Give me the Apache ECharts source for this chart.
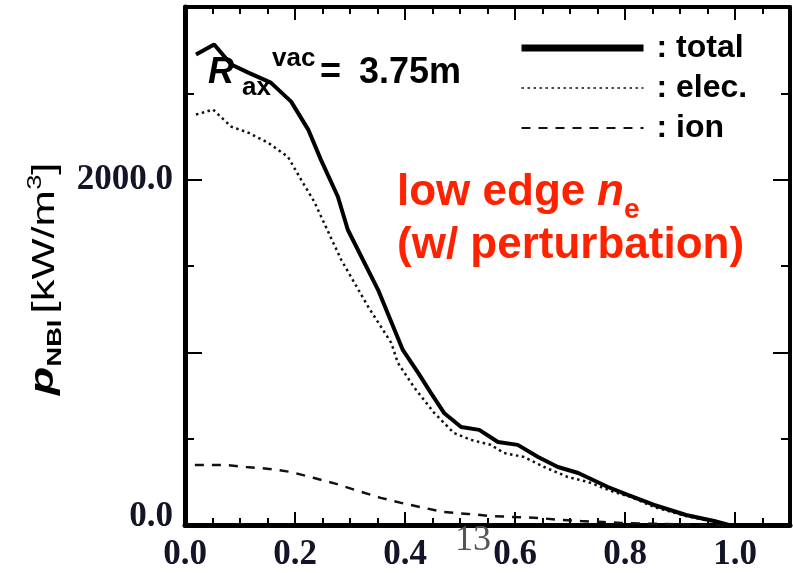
<!DOCTYPE html>
<html>
<head>
<meta charset="utf-8">
<script src="https://cdn.jsdelivr.net/npm/echarts@6/dist/echarts.min.js"></script>
<style>
html,body{margin:0;padding:0;background:#fff;}
#chart{width:793px;height:573px;}
</style>
</head>
<body>
<div id="chart"></div>
<script>
// ---- data ----
const xTotal = [0.02,0.053,0.084,0.115,0.156,0.193,0.224,0.247,0.278,0.296,0.351,0.396,0.424,0.447,0.471,0.502,0.535,0.569,0.605,0.642,0.678,0.715,0.769,0.805,0.853,0.911,0.962,0.989];
const yTotal = [2725,2783,2667,2620,2562,2452,2290,2116,1901,1710,1362,1014,881,765,649,568,551,481,464,394,336,301,220,174,116,58,23,0];

const xElec = [0.020,0.051,0.084,0.115,0.151,0.187,0.211,0.235,0.284,0.333,0.375,0.387,0.416,0.453,0.489,0.520,0.556,0.580,0.616,0.653,0.696,0.733,0.780,0.811,0.853,0.911,0.962,0.989];
const yElec = [2377,2406,2307,2272,2214,2133,2000,1872,1536,1264,1055,939,800,649,533,493,464,417,394,336,278,249,191,162,104,52,17,0];

const xIon = [0.018,0.071,0.111,0.153,0.193,0.235,0.275,0.315,0.356,0.393,0.435,0.471,0.515,0.556,0.598,0.642,0.684,0.720,0.760,0.793,0.865,0.94,0.99];
const yIon = [348,348,336,325,307,272,238,197,157,128,99,75,64,52,46,41,29,23,17,12,6,2,0];

const seriesNames = ['total','elec.','ion'];
const xTickLabels = ['0.0','0.2','0.4','0.6','0.8','1.0'];
const yTickLabels = ['0.0','2000.0'];

// ---- chart ----
const pairs = (xs, ys) => xs.map((x, i) => [x, ys[i]]);
const chart = echarts.init(document.getElementById('chart'), null, {renderer: 'canvas'});

const labelColor = '#141428';
const serif = '"Liberation Serif","Times New Roman",serif';
const sans = '"Liberation Sans",Arial,Helvetica,sans-serif';

function xAxisDef(pos, interval, tickLen, lineW, showLabel) {
  return {
    type: 'value', position: pos, gridIndex: 0, min: 0, max: 1.1, interval: interval,
    axisLine: {show: lineW > 0, onZero: false, lineStyle: {color: '#000', width: lineW || 1}},
    axisTick: {show: true, inside: true, length: tickLen, lineStyle: {color: '#000', width: 2}},
    splitLine: {show: false},
    axisLabel: {
      show: showLabel, margin: 12, color: labelColor, fontFamily: serif, fontWeight: 'bold', fontSize: 35,
      showMaxLabel: false,
      formatter: function (v) {
        const s = v.toFixed(1);
        return (Math.abs(v * 5 - Math.round(v * 5)) < 1e-6 && xTickLabels.indexOf(s) >= 0) ? s : '';
      }
    }
  };
}
function yAxisDef(pos, interval, tickLen, lineW, showLabel) {
  return {
    type: 'value', position: pos, gridIndex: 0, min: 0, max: 3000, interval: interval,
    axisLine: {show: lineW > 0, onZero: false, lineStyle: {color: '#000', width: lineW || 1}},
    axisTick: {show: true, inside: true, length: tickLen, lineStyle: {color: '#000', width: 2}},
    splitLine: {show: false},
    axisLabel: {
      show: showLabel, margin: 12, color: labelColor, fontFamily: serif, fontWeight: 'bold', fontSize: 35,
      formatter: function (v) {
        const s = v.toFixed(1);
        if (yTickLabels.indexOf(s) < 0) return '';
        return v === 0 ? '{z|' + s + '}' : s;
      },
      rich: {z: {color: labelColor, fontFamily: serif, fontWeight: 'bold', fontSize: 35, padding: [0, 0, 16, 0]}}
    }
  };
}

const option = {
  backgroundColor: '#fff',
  animation: false,
  grid: {left: 185, right: 3, top: 7, bottom: 48, containLabel: false},
  xAxis: [
    xAxisDef('bottom', 0.05, 7, 5, true),
    xAxisDef('bottom', 0.2, 13, 0, false),
    xAxisDef('top', 0.05, 7, 4, false),
    xAxisDef('top', 0.2, 13, 0, false)
  ],
  yAxis: [
    yAxisDef('left', 500, 9, 5, true),
    yAxisDef('left', 1000, 17, 0, false),
    yAxisDef('right', 500, 9, 4, false),
    yAxisDef('right', 1000, 17, 0, false)
  ],
  legend: {
    orient: 'vertical', left: 518, top: 32, padding: 0,
    itemWidth: 122, itemHeight: 14, itemGap: 8,
    selectedMode: false,
    formatter: ': {name}',
    itemStyle: {opacity: 0, color: 'rgba(0,0,0,0)', borderWidth: 0},
    textStyle: {fontSize: 32, fontWeight: 'bold', fontFamily: sans, color: '#000', lineHeight: 32, padding: [0, 0, 0, 8]},
    data: [
      {name: seriesNames[0], lineStyle: {width: 7}},
      {name: seriesNames[1], lineStyle: {width: 1.5}},
      {name: seriesNames[2]}
    ]
  },
  series: [
    {name: seriesNames[0], type: 'line', xAxisIndex: 0, yAxisIndex: 0, data: pairs(xTotal, yTotal),
     symbol: 'none', showSymbol: false, lineStyle: {color: '#000', width: 4}, itemStyle: {color: '#000'}, z: 5},
    {name: seriesNames[1], type: 'line', xAxisIndex: 0, yAxisIndex: 0, data: pairs(xElec, yElec),
     symbol: 'none', showSymbol: false, lineStyle: {color: '#111', width: 2.5, type: [2.5, 3.5]}, itemStyle: {color: '#111'}, z: 4},
    {name: seriesNames[2], type: 'line', xAxisIndex: 0, yAxisIndex: 0, data: pairs(xIon, yIon),
     symbol: 'none', showSymbol: false, lineStyle: {color: '#111', width: 2.5, type: [9, 8]}, itemStyle: {color: '#111'}, z: 4}
  ],
  graphic: [
    // y-axis title, rotated
    {type: 'group', x: 56, y: 395, rotation: Math.PI / 2, scaleX: 1.36, children: [
      {type: 'text', x: 0, y: -12, style: {text: 'p', fontSize: 34, fontWeight: 'bold', fontStyle: 'italic', fontFamily: sans, fill: '#000', verticalAlign: 'middle'}},
      {type: 'text', x: 21, y: -1, style: {text: 'NBI', fontSize: 20, fontWeight: 'bold', fontFamily: sans, fill: '#000', verticalAlign: 'middle'}},
      {type: 'text', x: 60, y: -11, style: {text: '[kW/m', fontSize: 32, fontFamily: sans, fill: '#000', verticalAlign: 'middle'}},
      {type: 'text', x: 151, y: -21, style: {text: '3', fontSize: 20, fontFamily: sans, fill: '#000', verticalAlign: 'middle'}},
      {type: 'text', x: 162, y: -11, style: {text: ']', fontSize: 32, fontFamily: sans, fill: '#000', verticalAlign: 'middle'}}
    ]},
    // R_ax^vac = 3.75m
    {type: 'text', x: 208, y: 73, z: 10, style: {text: 'R', fontSize: 36, fontStyle: 'italic', fontWeight: 'bold', fontFamily: sans, fill: '#000', verticalAlign: 'middle'}},
    {type: 'text', x: 242, y: 88, z: 10, style: {text: 'ax', fontSize: 26, fontWeight: 'bold', fontFamily: sans, fill: '#000', verticalAlign: 'middle'}},
    {type: 'text', x: 272, y: 59, z: 10, style: {text: 'vac', fontSize: 26, fontWeight: 'bold', fontFamily: sans, fill: '#000', verticalAlign: 'middle'}},
    {type: 'text', x: 320, y: 73, z: 10, style: {text: '=', fontSize: 36, fontWeight: 'bold', fontFamily: sans, fill: '#000', verticalAlign: 'middle'}},
    {type: 'text', x: 359, y: 73, z: 10, style: {text: '3.75m', fontSize: 36, fontWeight: 'bold', fontFamily: sans, fill: '#000', verticalAlign: 'middle'}},
    // red annotation
    {type: 'text', x: 397, y: 193, z: 10, style: {text: 'low edge ', fontSize: 44, fontWeight: 'bold', fontFamily: sans, fill: '#ff2200', verticalAlign: 'middle'}},
    {type: 'text', x: 597, y: 193, z: 10, style: {text: 'n', fontSize: 44, fontWeight: 'bold', fontStyle: 'italic', fontFamily: sans, fill: '#ff2200', verticalAlign: 'middle'}},
    {type: 'text', x: 624, y: 210, z: 10, style: {text: 'e', fontSize: 28, fontWeight: 'bold', fontFamily: sans, fill: '#ff2200', verticalAlign: 'middle'}},
    {type: 'text', x: 397, y: 246, z: 10, style: {text: '(w/ perturbation)', fontSize: 44, fontWeight: 'bold', fontFamily: sans, fill: '#ff2200', verticalAlign: 'middle'}},
    // page number artefact
    {type: 'text', x: 455, y: 541, z: 10, style: {text: '13', fontSize: 36, fontFamily: serif, fill: '#555', verticalAlign: 'middle'}}
  ]
};
chart.setOption(option);
</script>
</body>
</html>
